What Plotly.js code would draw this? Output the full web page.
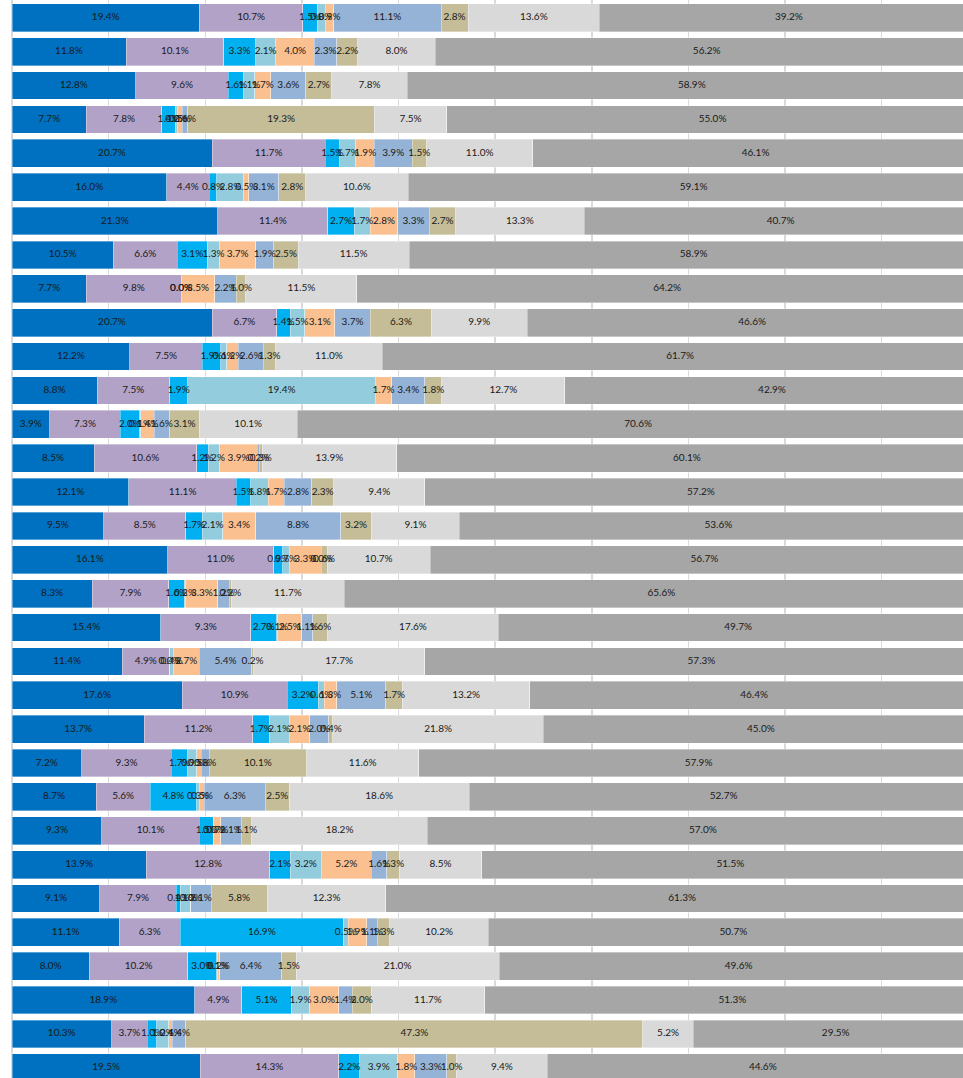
<!DOCTYPE html>
<html>
<head>
<meta charset="utf-8">
<script src="https://cdn.plot.ly/plotly-3.0.1.min.js"></script>
<style>
html,body{margin:0;padding:0;background:#fff;overflow:hidden;}
#chart{width:963px;height:1078px;}
</style>
</head>
<body>
<div id="chart"></div>
<script>
const rows = ['R1','R2','R3','R4','R5','R6','R7','R8','R9','R10','R11','R12','R13','R14','R15','R16',
              'R17','R18','R19','R20','R21','R22','R23','R24','R25','R26','R27','R28','R29','R30','R31','R32'];

const series1 = [19.4,11.8,12.8,7.7,20.7,16.0,21.3,10.5,7.7,20.7,12.2,8.8,3.9,8.5,12.1,9.5,
                 16.1,8.3,15.4,11.4,17.6,13.7,7.2,8.7,9.3,13.9,9.1,11.1,8.0,18.9,10.3,19.5];
const series2 = [10.7,10.1,9.6,7.8,11.7,4.4,11.4,6.6,9.8,6.7,7.5,7.5,7.3,10.6,11.1,8.5,
                 11.0,7.9,9.3,4.9,10.9,11.2,9.3,5.6,10.1,12.8,7.9,6.3,10.2,4.9,3.7,14.3];
const series3 = [1.5,3.3,1.6,1.4,1.5,0.8,2.7,3.1,0.0,1.4,1.9,1.9,2.0,1.2,1.5,1.7,
                 0.9,1.6,2.7,0.0,3.2,1.7,1.7,4.8,1.5,2.1,0.4,16.9,3.0,5.1,1.0,2.2];
const series4 = [0.8,2.1,1.1,0.2,1.7,2.8,1.7,1.3,0.0,1.5,0.6,19.4,0.1,1.2,1.8,2.1,
                 0.7,0.2,0.1,0.4,0.6,2.1,0.9,0.3,0.0,3.2,1.1,0.5,0.1,1.9,1.2,3.9];
const series5 = [0.9,4.0,1.7,0.5,1.9,0.5,2.8,3.7,3.5,3.1,1.2,1.7,1.4,3.9,1.7,3.4,
                 3.3,3.3,2.5,2.7,1.3,2.1,0.5,0.5,0.7,5.2,0.0,1.9,0.2,3.0,0.4,1.8];
const series6 = [11.1,2.3,3.6,0.6,3.9,3.1,3.3,1.9,2.2,3.7,2.6,3.4,1.6,0.2,2.8,8.8,
                 0.0,1.2,1.1,5.4,5.1,2.0,0.8,6.3,2.1,1.6,2.1,1.1,6.4,1.4,1.4,3.3];
const series7 = [2.8,2.2,2.7,19.3,1.5,2.8,2.7,2.5,1.0,6.3,1.3,1.8,3.1,0.3,2.3,3.2,
                 0.6,0.2,1.6,0.2,1.7,0.4,10.1,2.5,1.1,1.3,5.8,1.3,1.5,2.0,47.3,1.0];
const series8 = [13.6,8.0,7.8,7.5,11.0,10.6,13.3,11.5,11.5,9.9,11.0,12.7,10.1,13.9,9.4,9.1,
                 10.7,11.7,17.6,17.7,13.2,21.8,11.6,18.6,18.2,8.5,12.3,10.2,21.0,11.7,5.2,9.4];
const series9 = [39.2,56.2,58.9,55.0,46.1,59.1,40.7,58.9,64.2,46.6,61.7,42.9,70.6,60.1,57.2,53.6,
                 56.7,65.6,49.7,57.3,46.4,45.0,57.9,52.7,57.0,51.5,61.3,50.7,49.6,51.3,29.5,44.6];

const allSeries = [series1,series2,series3,series4,series5,series6,series7,series8,series9];
const colors = ['#0070C0','#B3A2C7','#00B0F0','#93CDDD','#FAC090','#95B3D7','#C4BD97','#D9D9D9','#A6A6A6'];

const traces = allSeries.map((vals, i) => ({
  type: 'bar',
  orientation: 'h',
  x: vals,
  y: rows,
  marker: {color: colors[i], line: {color: 'rgba(255,255,255,0.7)', width: 0.5}},
  textposition: 'none',
  hoverinfo: 'skip',
  showlegend: false
}));

// Label layer drawn above every bar, centred on each segment
const labelX = [], labelY = [], labelText = [];
rows.forEach((r, j) => {
  let cum = 0;
  allSeries.forEach(vals => {
    const v = vals[j];
    labelX.push(cum + v / 2);
    labelY.push(r);
    labelText.push(v.toFixed(1) + '%');
    cum += v;
  });
});

traces.push({
  type: 'scatter',
  mode: 'text',
  x: labelX,
  y: labelY,
  text: labelText,
  textposition: 'middle center',
  textfont: {family: 'Lato, "Open Sans", sans-serif', size: 10, color: '#1a1a1a'},
  cliponaxis: false,
  hoverinfo: 'skip',
  showlegend: false
});

const layout = {
  width: 963,
  height: 1078,
  margin: {l: 12, r: 0, t: 0, b: 0, pad: 0},
  paper_bgcolor: '#ffffff',
  plot_bgcolor: '#ffffff',
  barmode: 'stack',
  bargap: 0.18,
  showlegend: false,
  xaxis: {
    range: [0, 98.42],
    dtick: 10,
    showgrid: true,
    gridcolor: '#D9D9D9',
    gridwidth: 1.5,
    zeroline: true,
    zerolinecolor: '#D9D9D9',
    zerolinewidth: 1.5,
    showticklabels: false,
    ticks: '',
    fixedrange: true
  },
  yaxis: {
    type: 'category',
    range: [31.30, -0.527],
    showgrid: false,
    zeroline: false,
    showticklabels: false,
    ticks: '',
    fixedrange: true
  }
};

Plotly.newPlot('chart', traces, layout, {displayModeBar: false, staticPlot: true});
</script>
</body>
</html>
